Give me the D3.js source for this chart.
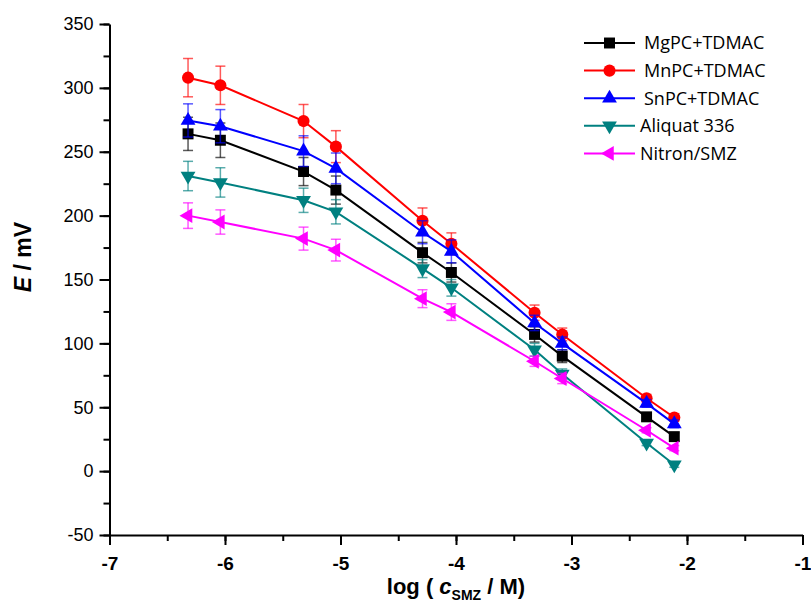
<!DOCTYPE html>
<html lang="en">
  <head>
    <meta charset="UTF-8" />
    <title>E vs log c(SMZ)</title>
    <script src="https://cdn.jsdelivr.net/npm/d3@7/dist/d3.min.js"></script>
    <style>
      body {
        margin: 0;
        background: #fff;
      }
      .tick text {
        font-family: "Liberation Sans", Arial, sans-serif;
      }
      .legend text {
        font-family: "Open Sans", sans-serif;
        font-size: 18px;
      }
    </style>
  </head>
  <body>
    <svg width="811" height="604"></svg>
    <script>
      const svg = d3.select("svg");

      // log concentration (x) for every membrane
      const logC = [-6.32, -6.04, -5.32, -5.04, -4.29, -4.04, -3.32, -3.08, -2.35, -2.11];

      const names = ["MgPC+TDMAC", "MnPC+TDMAC", "SnPC+TDMAC", "Aliquat 336", "Nitron/SMZ"];

      const mgpc = [264, 259, 234.5, 220, 171, 155.5, 107, 90, 42.5, 27];
      const mgpcErr = [13, 13.5, 11, 11, 8, 7.5, 6, 5, 3, 3];

      const mnpc = [308, 302, 274, 254, 196, 178, 124, 107, 57, 42];
      const mnpcErr = [15, 15, 13, 12.5, 10, 8.5, 6, 5, 3, 3];

      const snpc = [274.5, 270, 250.5, 237, 187, 172, 116, 100, 53, 37];
      const snpcErr = [13, 13, 12, 12, 9, 9, 6, 5, 3, 3];

      const aliquat = [231, 226, 212, 203, 158.5, 143.5, 95, 76, 22, 5];
      const aliquatErr = [11.5, 11.5, 9.5, 9.5, 7, 6.5, 5, 4, 2, 2];

      const nitron = [200, 195, 182, 173, 135, 124.5, 86, 72.5, 32, 18];
      const nitronErr = [10, 9.5, 9, 8.5, 7, 6.5, 4, 4, 2, 2];

      const xTicks = [-7, -6, -5, -4, -3, -2, -1];
      const yTicks = [-50, 0, 50, 100, 150, 200, 250, 300, 350];

      const series = [
        { name: names[0], y: mgpc, err: mgpcErr, color: "#000000", symbol: d3.symbolSquare, size: 120, rot: 0 },
        { name: names[1], y: mnpc, err: mnpcErr, color: "#ff0000", symbol: d3.symbolCircle, size: 115, rot: 0 },
        { name: names[2], y: snpc, err: snpcErr, color: "#0000ff", symbol: d3.symbolTriangle, size: 95, rot: 0 },
        { name: names[3], y: aliquat, err: aliquatErr, color: "#008080", symbol: d3.symbolTriangle, size: 95, rot: 180 },
        { name: names[4], y: nitron, err: nitronErr, color: "#ff00ff", symbol: d3.symbolTriangle, size: 95, rot: -90 },
      ];

      const x = d3.scaleLinear().domain([-7, -1]).range([109.5, 802.5]);
      const y = d3.scaleLinear().domain([-50, 350]).range([535, 24]);

      const plainNum = (d) => String(d); // hyphen-minus like the original

      // minor ticks
      const xMinor = d3.range(-7, -0.99, 0.5);
      const yMinor = d3.range(-50, 351, 25);

      svg
        .append("g")
        .attr("transform", "translate(0,535)")
        .call(d3.axisBottom(x).tickValues(xMinor).tickSize(6).tickFormat(""))
        .call((g) => g.select(".domain").remove())
        .selectAll("line")
        .attr("stroke-width", 2);

      svg
        .append("g")
        .attr("transform", "translate(109.5,0)")
        .call(d3.axisLeft(y).tickValues(yMinor).tickSize(6).tickFormat(""))
        .call((g) => g.select(".domain").remove())
        .selectAll("line")
        .attr("stroke-width", 2);

      const xAxis = svg
        .append("g")
        .attr("transform", "translate(0,535)")
        .call(
          d3.axisBottom(x).tickValues(xTicks).tickFormat(plainNum)
            .tickSize(10).tickSizeOuter(0).tickPadding(12)
        );
      xAxis.select(".domain").attr("stroke-width", 2);
      xAxis.selectAll("line").attr("stroke-width", 2);
      xAxis
        .selectAll("text")
        .attr("font-size", 19)
        .attr("font-weight", "bold")
        .attr("fill", "#000");

      const yAxis = svg
        .append("g")
        .attr("transform", "translate(109.5,0)")
        .call(
          d3.axisLeft(y).tickValues(yTicks).tickFormat(plainNum)
            .tickSize(10).tickSizeOuter(0).tickPadding(6)
        );
      yAxis.select(".domain").attr("stroke-width", 2);
      yAxis.selectAll("line").attr("stroke-width", 2);
      yAxis.selectAll("text").attr("font-size", 18).attr("fill", "#000");

      // axis titles
      const yTitle = svg
        .append("text")
        .attr("transform", "translate(31,257) rotate(-90)")
        .attr("text-anchor", "middle")
        .attr("font-family", "Liberation Sans, Arial, sans-serif")
        .attr("font-weight", "bold")
        .attr("font-size", 23);
      yTitle.append("tspan").attr("font-style", "italic").text("E");
      yTitle.append("tspan").text(" / mV");

      const xTitle = svg
        .append("text")
        .attr("x", 456)
        .attr("y", 594)
        .attr("text-anchor", "middle")
        .attr("font-family", "Liberation Sans, Arial, sans-serif")
        .attr("font-weight", "bold")
        .attr("font-size", 22);
      xTitle.append("tspan").text("log ( ");
      xTitle.append("tspan").attr("font-style", "italic").text("c");
      xTitle.append("tspan").attr("font-size", 14).attr("dy", 6).text("SMZ");
      xTitle.append("tspan").attr("dy", -6).text(" / M)");

      const line = d3
        .line()
        .x((d, i) => x(logC[i]))
        .y((d) => y(d));

      series.forEach((s) => {
        const g = svg.append("g");

        g.append("path")
          .datum(s.y)
          .attr("fill", "none")
          .attr("stroke", s.color)
          .attr("stroke-width", 2)
          .attr("d", line);

        const eb = g
          .selectAll(".err")
          .data(s.y)
          .enter()
          .append("g")
          .attr("stroke", s.color)
          .attr("stroke-opacity", 0.65)
          .attr("stroke-width", 1.5);
        eb.append("line")
          .attr("x1", (d, i) => x(logC[i]))
          .attr("x2", (d, i) => x(logC[i]))
          .attr("y1", (d, i) => y(d + s.err[i]))
          .attr("y2", (d, i) => y(d - s.err[i]));
        eb.append("line")
          .attr("x1", (d, i) => x(logC[i]) - 5)
          .attr("x2", (d, i) => x(logC[i]) + 5)
          .attr("y1", (d, i) => y(d + s.err[i]))
          .attr("y2", (d, i) => y(d + s.err[i]));
        eb.append("line")
          .attr("x1", (d, i) => x(logC[i]) - 5)
          .attr("x2", (d, i) => x(logC[i]) + 5)
          .attr("y1", (d, i) => y(d - s.err[i]))
          .attr("y2", (d, i) => y(d - s.err[i]));

        g.selectAll(".mark")
          .data(s.y)
          .enter()
          .append("path")
          .attr("d", d3.symbol(s.symbol, s.size))
          .attr("fill", s.color)
          .attr("transform", (d, i) => `translate(${x(logC[i])},${y(d)}) rotate(${s.rot})`);
      });

      // legend
      const legend = svg
        .append("g")
        .attr("class", "legend")
        .selectAll("g")
        .data(series)
        .enter()
        .append("g")
        .attr("transform", (d, i) => `translate(0,${43 + i * 27.6})`);

      legend
        .append("line")
        .attr("x1", 584)
        .attr("x2", 635)
        .attr("stroke", (d) => d.color)
        .attr("stroke-width", 2);
      legend
        .append("path")
        .attr("d", (d) => d3.symbol(d.symbol, d.size)())
        .attr("fill", (d) => d.color)
        .attr("transform", (d) => `translate(609.5,0) rotate(${d.rot})`);
      legend
        .append("text")
        .attr("x", (d, i) => (i >= 3 ? 640 : 644))
        .attr("dy", "0.35em")
        .text((d) => d.name);
    </script>
  </body>
</html>
